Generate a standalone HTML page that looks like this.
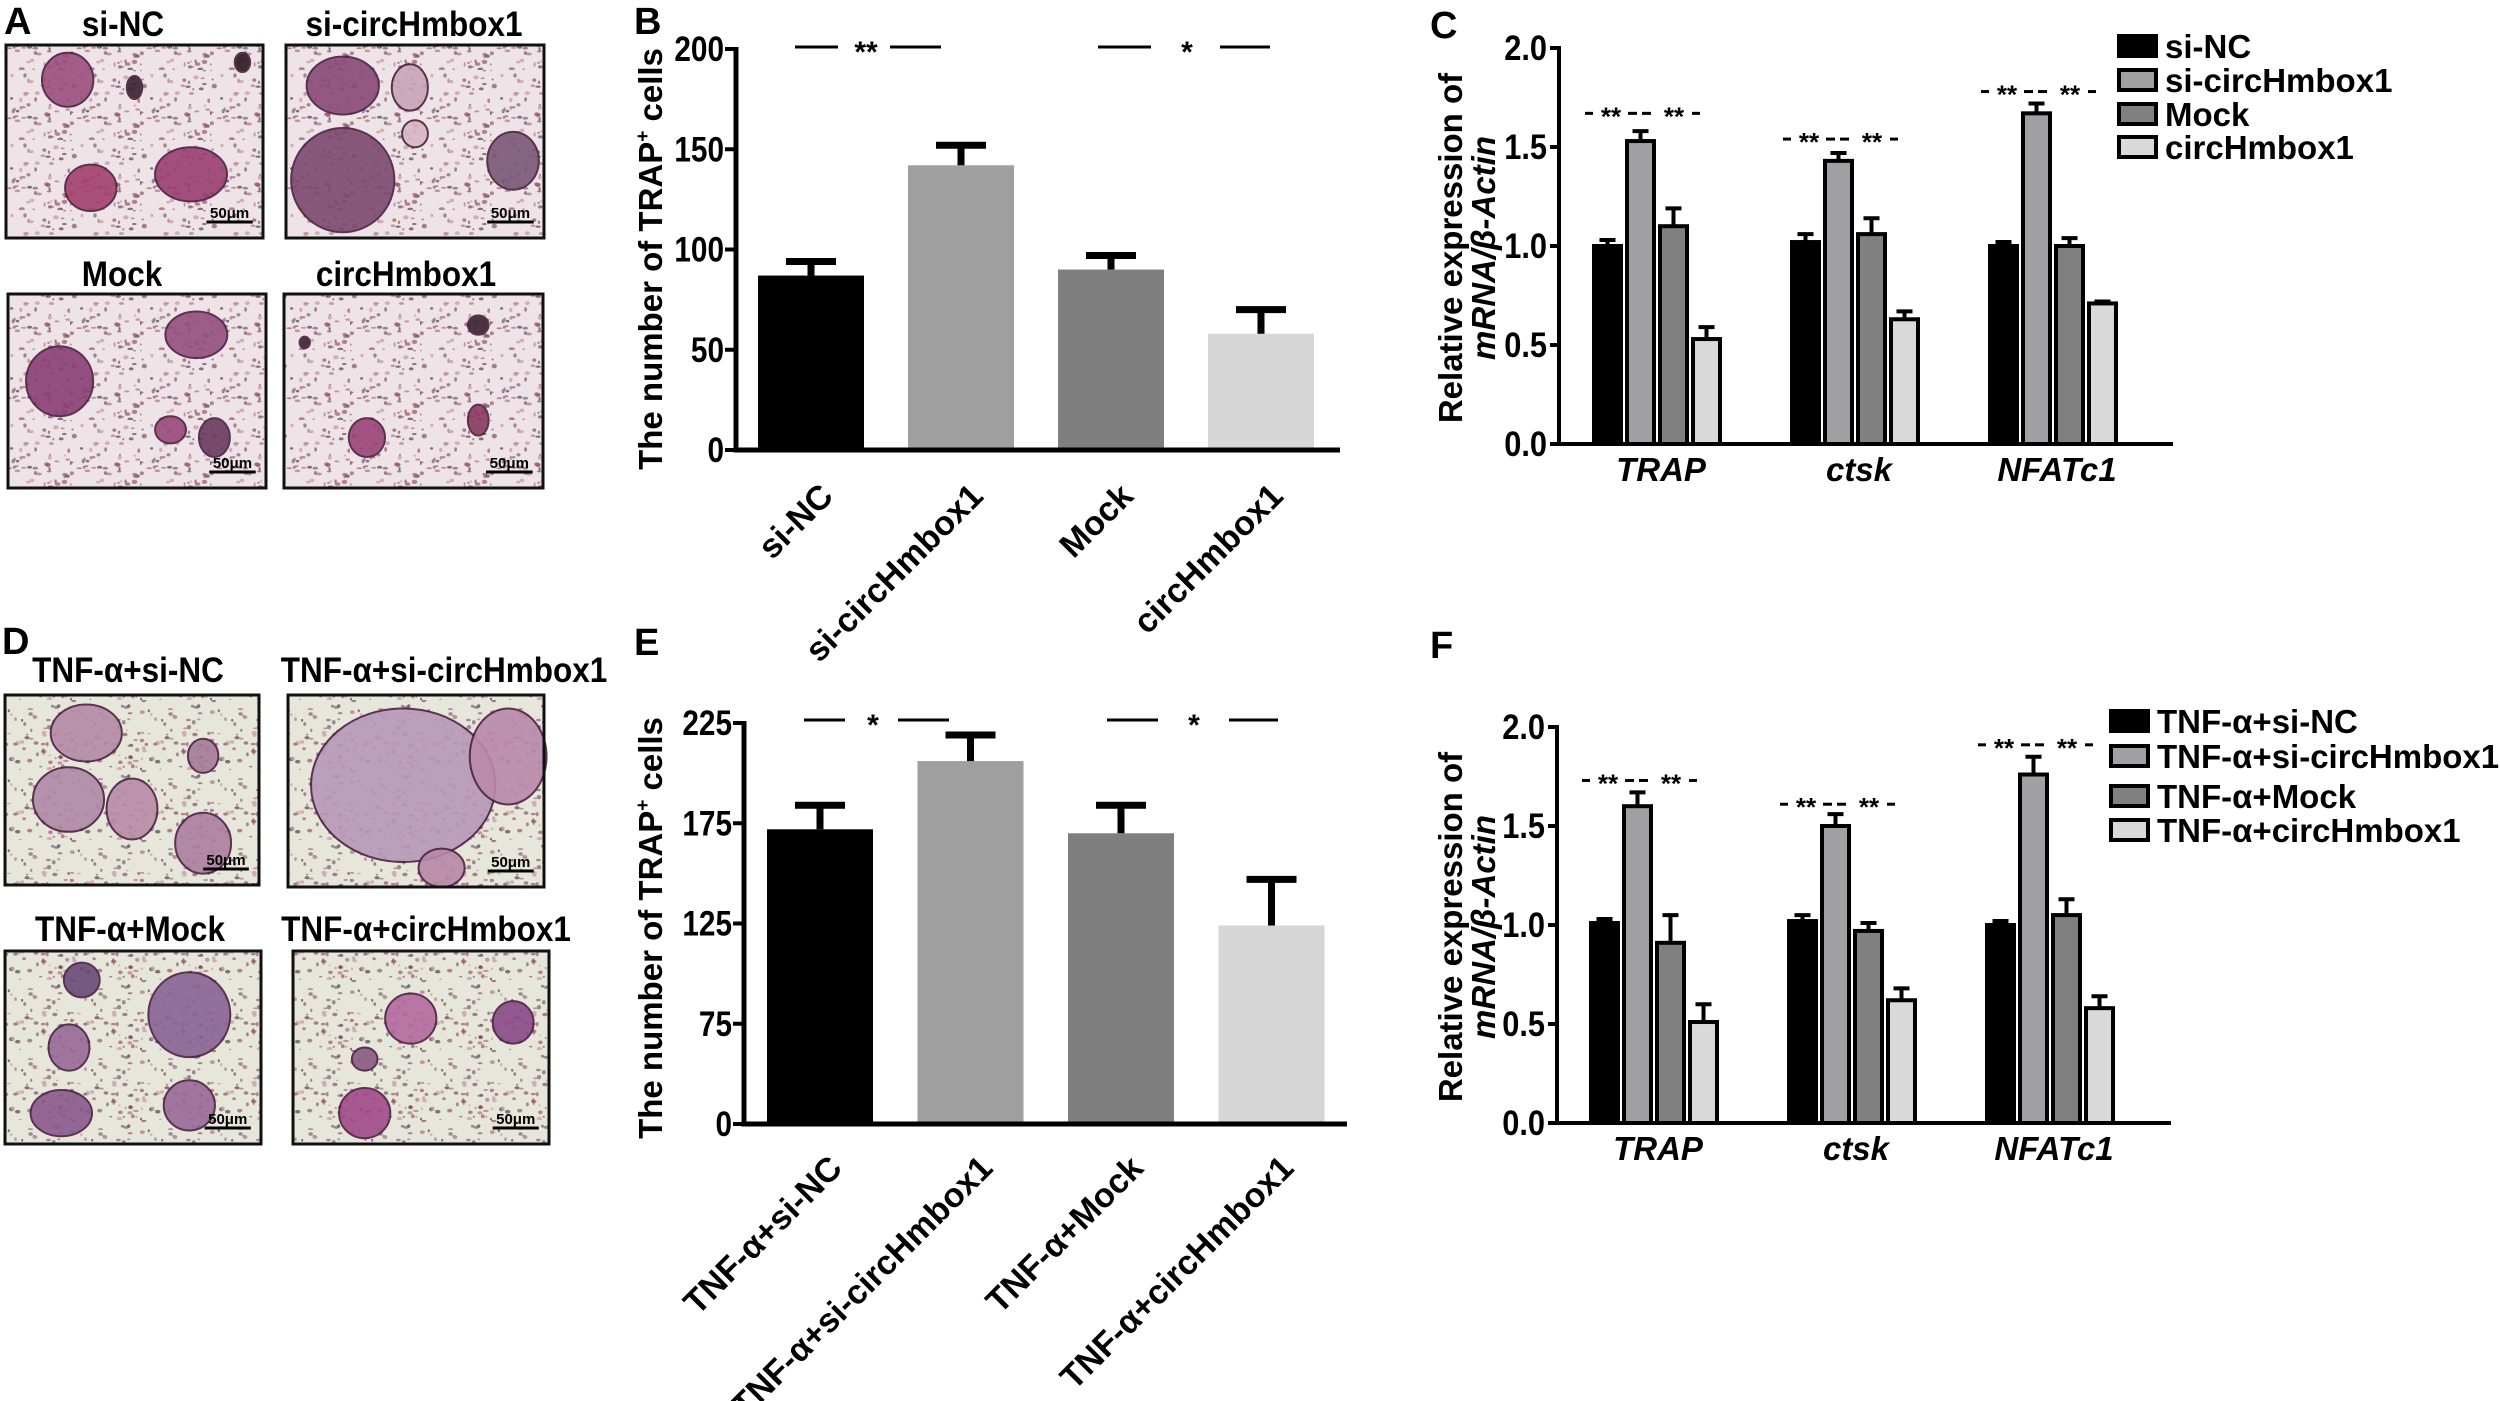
<!DOCTYPE html>
<html><head><meta charset="utf-8">
<style>
html,body{margin:0;padding:0;background:#fff;}
svg{display:block;}
text{font-family:"Liberation Sans",Arial,sans-serif;font-weight:bold;fill:#000;}
</style></head>
<body>
<svg id="fig" xmlns="http://www.w3.org/2000/svg" width="2500" height="1401" viewBox="0 0 2500 1401">
<defs>
<pattern id="speckA" width="70" height="70" patternUnits="userSpaceOnUse"><rect width="70" height="70" fill="#eee3e6"/><g id="dotsA"></g></pattern>
<pattern id="speckD" width="70" height="70" patternUnits="userSpaceOnUse"><rect width="70" height="70" fill="#e6e6da"/><g id="dotsD"></g></pattern>
</defs>
<g id="layer"></g>
</svg>
<script>
// ---------- Panel B data ----------
const bCategories = ["si-NC","si-circHmbox1","Mock","circHmbox1"];
const bValues = [87, 142, 90, 58];
const bErrors = [94, 152, 97, 70];
const bTicks = [0, 50, 100, 150, 200];
// ---------- Panel E data ----------
const eCategories = ["TNF-α+si-NC","TNF-α+si-circHmbox1","TNF-α+Mock","TNF-α+circHmbox1"];
const eValues = [172, 206, 170, 124];
const eErrors = [184, 219, 184, 147];
const eTicks = [25, 75, 125, 175, 225];
const eTickLabels = ["0","75","125","175","225"];
// ---------- Panel C data ----------
const cGenes = ["TRAP","ctsk","NFATc1"];
const cSeries = ["si-NC","si-circHmbox1","Mock","circHmbox1"];
const cSiNC = [1.00, 1.02, 1.00];
const cSiCirc = [1.53, 1.43, 1.67];
const cMock = [1.10, 1.06, 1.00];
const cCirc = [0.53, 0.63, 0.71];
const cSiNCErr = [0.03, 0.04, 0.02];
const cSiCircErr = [0.05, 0.04, 0.05];
const cMockErr = [0.09, 0.08, 0.04];
const cCircErr = [0.06, 0.04, 0.01];
const cSigLevel = [1.67, 1.54, 1.78];
// ---------- Panel F data ----------
const fSeries = ["TNF-α+si-NC","TNF-α+si-circHmbox1","TNF-α+Mock","TNF-α+circHmbox1"];
const fSiNC = [1.01, 1.02, 1.00];
const fSiCirc = [1.60, 1.50, 1.76];
const fMock = [0.91, 0.97, 1.05];
const fCirc = [0.51, 0.62, 0.58];
const fSiNCErr = [0.02, 0.03, 0.02];
const fSiCircErr = [0.07, 0.06, 0.09];
const fMockErr = [0.14, 0.04, 0.08];
const fCircErr = [0.09, 0.06, 0.06];
const fSigLevel = [1.73, 1.61, 1.91];
const relTicks = [0.0, 0.5, 1.0, 1.5, 2.0];

const NS = "http://www.w3.org/2000/svg";
const root = document.getElementById("layer");
function mk(tag, attrs, parent) {
  const el = document.createElementNS(NS, tag);
  for (const k in attrs) el.setAttribute(k, attrs[k]);
  (parent || root).appendChild(el);
  return el;
}
function txt(str, attrs, parent) { const t = mk("text", attrs, parent); t.textContent = str; return t; }

// ---------- speckle patterns (decorative texture) ----------
let seed = 7;
function rnd() { seed = (seed * 16807) % 2147483647; return seed / 2147483647; }
["dotsA","dotsD"].forEach(function(id){
  const g = document.getElementById(id);
  const cols = ["#8a5a6a","#b07a8a","#5a4a5a","#c89aa8","#7a6a80","#a06070"];
  for (let i = 0; i < 70; i++) {
    const d = document.createElementNS(NS, "ellipse");
    d.setAttribute("cx", (rnd()*70).toFixed(1));
    d.setAttribute("cy", (rnd()*70).toFixed(1));
    d.setAttribute("rx", (1 + rnd()*2).toFixed(1));
    d.setAttribute("ry", (0.8 + rnd()*1.5).toFixed(1));
    d.setAttribute("fill", cols[Math.floor(rnd()*cols.length)]);
    d.setAttribute("opacity", "0.75");
    g.appendChild(d);
  }
});

// ---------- micrograph panels ----------
function micro(x, y, w, h, title, tx, ty, pat, blobs, name) {
  const g = mk("g", {});
  
  
  const t = txt(title, {x: 0, y: 0, "text-anchor": "middle", "font-size": 35, transform: "translate(" + tx + "," + ty + ") scale(0.9,1)"}, g);
  
  
  mk("rect", {x: x, y: y, width: w, height: h, fill: "url(#" + pat + ")"}, g);
  blobs.forEach(function(b){
    mk("ellipse", {cx: x + b[0]*w, cy: y + b[1]*h, rx: b[2]*w, ry: b[3]*h, fill: b[4] || "#8e4f82", stroke: "#4a2040", "stroke-width": 2, opacity: 0.9}, g);
  });
  mk("rect", {x: x, y: y, width: w, height: h, fill: "none", stroke: "#111", "stroke-width": 3}, g);
  mk("line", {x1: x + w*0.78, y1: y + h - 16, x2: x + w*0.96, y2: y + h - 16, stroke: "#000", "stroke-width": 3}, g);
  txt("50μm", {x: x + w*0.87, y: y + h - 20, "text-anchor": "middle", "font-size": 15, "font-weight": "normal"}, g);
  return g;
}
txt("A", {x: 4, y: 34, "font-size": 38});
txt("D", {x: 2, y: 654, "font-size": 38});
micro(6, 45, 257, 193, "si-NC", 123, 36, "speckA",
  [[0.24,0.18,0.1,0.14,"#9a4f7e"],[0.33,0.74,0.1,0.12,"#a2406e"],[0.72,0.67,0.14,0.14,"#9a3f72"],[0.5,0.22,0.03,0.06,"#3a2030"],[0.92,0.09,0.03,0.05,"#2a1a20"]], "micrograph-si-nc");
micro(286, 45, 258, 193, "si-circHmbox1", 414, 36, "speckA",
  [[0.22,0.21,0.14,0.15,"#8a4a78"],[0.48,0.22,0.07,0.12,"#c9a6b8"],[0.5,0.46,0.05,0.07,"#d7b8c6"],[0.22,0.7,0.2,0.27,"#7c4a70"],[0.88,0.6,0.1,0.15,"#7a5878"]], "micrograph-si-circhmbox1");
micro(8, 294, 258, 194, "Mock", 122, 286, "speckA",
  [[0.2,0.45,0.13,0.18,"#8a3f74"],[0.73,0.21,0.12,0.12,"#94507e"],[0.63,0.7,0.06,0.07,"#9a4a7a"],[0.8,0.74,0.06,0.1,"#6a3a60"]], "micrograph-mock");
micro(284, 294, 259, 194, "circHmbox1", 406, 286, "speckA",
  [[0.75,0.16,0.04,0.05,"#3a2030"],[0.32,0.74,0.07,0.1,"#9a4478"],[0.75,0.65,0.04,0.08,"#8a3a60"],[0.08,0.25,0.02,0.03,"#3a2030"]], "micrograph-circhmbox1");
micro(5, 695, 254, 190, "TNF-α+si-NC", 128, 682, "speckD",
  [[0.32,0.2,0.14,0.15,"#b58aa8"],[0.25,0.55,0.14,0.17,"#b08aa6"],[0.5,0.6,0.1,0.16,"#b88ca6"],[0.78,0.78,0.11,0.16,"#ad7fa0"],[0.78,0.32,0.06,0.09,"#a57a98"]], "micrograph-tnf-si-nc");
micro(288, 695, 256, 192, "TNF-α+si-circHmbox1", 444, 682, "speckD",
  [[0.45,0.47,0.36,0.4,"#b898b8"],[0.86,0.32,0.15,0.25,"#b88aaa"],[0.6,0.9,0.09,0.1,"#b888a8"]], "micrograph-tnf-si-circhmbox1");
micro(5, 951, 256, 193, "TNF-α+Mock", 130, 941, "speckD",
  [[0.3,0.15,0.07,0.09,"#6a4a78"],[0.25,0.5,0.08,0.12,"#9a6a98"],[0.22,0.84,0.12,0.12,"#8a5a8c"],[0.72,0.33,0.16,0.22,"#8a6496"],[0.72,0.8,0.1,0.13,"#9a6a98"]], "micrograph-tnf-mock");
micro(293, 951, 256, 193, "TNF-α+circHmbox1", 426, 941, "speckD",
  [[0.46,0.35,0.1,0.13,"#b46aa0"],[0.86,0.37,0.08,0.11,"#8a4a88"],[0.28,0.56,0.05,0.06,"#8a5a80"],[0.28,0.84,0.1,0.13,"#a24a8a"]], "micrograph-tnf-circhmbox1");

// ---------- single bar charts (B, E) ----------
function barChart(opt) {
  const g = mk("g", {});
  
  
  const y = function(v){ return opt.y0 - (v - opt.dmin) / (opt.dmax - opt.dmin) * (opt.y0 - opt.y1); };
  const xc = function(i){ return opt.firstBar + opt.bw/2 + i * opt.step; };
  const cols = ["#000000","#9f9f9f","#7f7f7f","#d6d6d6"];
  opt.values.forEach(function(v, i){
    const r = mk("rect", {x: xc(i) - opt.bw/2, y: y(v), width: opt.bw, height: opt.y0 - y(v), fill: cols[i]}, g);
    
    
    const e = mk("path", {d: "M" + xc(i) + " " + y(v) + "V" + y(opt.errs[i]) + "M" + (xc(i)-25) + " " + y(opt.errs[i]) + "H" + (xc(i)+25), stroke: "#000", "stroke-width": 7, fill: "none"}, g);
    
    
    const lb = txt(opt.cats[i], {x: 0, y: 0, "text-anchor": "end", "font-size": 34, transform: "translate(" + (xc(i) + opt.lblDx) + "," + opt.lblY + ") rotate(-45)"}, g);
    
    
  });
  const ax = mk("path", {d: "M" + opt.ax + " " + (opt.y1 - 2) + "V" + opt.y0 + "H" + opt.axEnd, stroke: "#000", "stroke-width": 5, fill: "none"}, g);
  
  
  opt.ticks.forEach(function(t, i){
    mk("line", {x1: opt.ax - 11, x2: opt.ax, y1: y(t), y2: y(t), stroke: "#000", "stroke-width": 4}, g);
    const tl = txt(opt.tickLabels[i], {x: 0, y: 0, "text-anchor": "end", "font-size": 35, transform: "translate(" + (opt.ax - 12) + "," + (y(t) + 12) + ") scale(0.85,1)"}, g);
    
    
  });
  const yt = txt("The number of TRAP", {x: 0, y: 0, "text-anchor": "middle", "font-size": 33, transform: "translate(" + opt.titleX + "," + opt.titleY + ") rotate(-90)"}, g);
  const sup = document.createElementNS(NS, "tspan");
  sup.setAttribute("font-size", 19); sup.setAttribute("dy", -13); sup.textContent = "+";
  yt.appendChild(sup);
  const rest = document.createElementNS(NS, "tspan");
  rest.setAttribute("dy", 13); rest.textContent = " cells";
  yt.appendChild(rest);
  
  
  opt.sig.forEach(function(s){
    mk("line", {x1: s[0], x2: s[1], y1: opt.sigY, y2: opt.sigY, stroke: "#000", "stroke-width": 3}, g);
    mk("line", {x1: s[2], x2: s[3], y1: opt.sigY, y2: opt.sigY, stroke: "#000", "stroke-width": 3}, g);
    const st = txt(s[5], {x: s[4], y: opt.sigY + 15, "text-anchor": "middle", "font-size": 30}, g);
    
    
  });
  txt(opt.letter, {x: 634, y: opt.letterY, "font-size": 38}, g);
}
barChart({name: "panel-b-chart", letter: "B", letterY: 34, cats: bCategories, values: bValues, errs: bErrors,
  ticks: bTicks, tickLabels: bTicks.map(String), dmin: 0, dmax: 200, y0: 450, y1: 49, ax: 736, axEnd: 1340,
  firstBar: 758, bw: 106, step: 150, lblDx: 24, lblY: 498, titleX: 662, titleY: 259, sigY: 47,
  sig: [[795,838,890,941,866,"**"],[1098,1151,1220,1270,1187,"*"]]});
barChart({name: "panel-e-chart", letter: "E", letterY: 655, cats: eCategories, values: eValues, errs: eErrors,
  ticks: eTicks, tickLabels: eTickLabels, dmin: 25, dmax: 225, y0: 1124, y1: 723, ax: 744, axEnd: 1347,
  firstBar: 767, bw: 106, step: 150.5, lblDx: 24, lblY: 1170, titleX: 662, titleY: 928, sigY: 720,
  sig: [[804,845,898,949,873,"*"],[1107,1158,1229,1278,1194,"*"]]});

// ---------- grouped charts (C, F) ----------
function groupChart(opt) {
  const g = mk("g", {});
  
  
  const y = function(v){ return opt.y0 - v / 2.0 * (opt.y0 - opt.y1); };
  const cols = ["#000000","#a0a0a4","#808080","#d9d9d9"];
  const groupStep = 198, barStep = 33, bw = 27;
  opt.series.forEach(function(vals, si){
    vals.forEach(function(v, gi){
      const x = opt.g0 + gi * groupStep + si * barStep;
      const cx = x + bw/2;
      const e = mk("path", {d: "M" + cx + " " + y(v) + "V" + y(v + opt.errs[si][gi]) + "M" + (cx-8) + " " + y(v + opt.errs[si][gi]) + "H" + (cx+8), stroke: "#000", "stroke-width": 4, fill: "none"}, g);
      
      
      const r = mk("rect", {x: x, y: y(v), width: bw, height: opt.y0 - y(v), fill: cols[si], stroke: "#000", "stroke-width": 4}, g);
      
      
    });
  });
  opt.genes.forEach(function(gn, gi){
    const gx = opt.g0 + gi * groupStep;
    const cl = txt(gn, {x: gx + 67, y: opt.y0 + 37, "text-anchor": "middle", "font-size": 33, "font-style": "italic"}, g);
    
    
    const sy = y(opt.sig[gi]);
    [[-9,-1],[34,43],[48,57],[98,106]].forEach(function(d){
      mk("line", {x1: gx + d[0], x2: gx + d[1], y1: sy, y2: sy, stroke: "#000", "stroke-width": 3}, g);
    });
    const s1 = txt("**", {x: gx + 17, y: sy + 12, "text-anchor": "middle", "font-size": 26}, g);
    
    
    const s2 = txt("**", {x: gx + 80, y: sy + 12, "text-anchor": "middle", "font-size": 26}, g);
    
    
  });
  const ax = mk("path", {d: "M" + opt.ax + " " + (opt.y1 - 2) + "V" + opt.y0 + "H" + opt.axEnd, stroke: "#000", "stroke-width": 4, fill: "none"}, g);
  
  
  relTicks.forEach(function(t){
    mk("line", {x1: opt.ax - 9, x2: opt.ax, y1: y(t), y2: y(t), stroke: "#000", "stroke-width": 4}, g);
    const tl = txt(t.toFixed(1), {x: 0, y: 0, "text-anchor": "end", "font-size": 35, transform: "translate(" + (opt.ax - 12) + "," + (y(t) + 12) + ") scale(0.88,1)"}, g);
    
    
  });
  const t1 = txt("Relative expression of", {x: 0, y: 0, "text-anchor": "middle", "font-size": 33, transform: "translate(1462," + opt.titleY + ") rotate(-90)"}, g);
  
  
  const t2 = txt("mRNA/β-Actin", {x: 0, y: 0, "text-anchor": "middle", "font-size": 33, "font-style": "italic", transform: "translate(1495," + opt.titleY + ") rotate(-90)"}, g);
  
  
  opt.legendNames.forEach(function(n, i){
    const ly = opt.legY[i];
    const sw = mk("rect", {x: opt.legX, y: ly - 10, width: 37, height: 20, fill: cols[i], stroke: "#000", "stroke-width": 4}, g);
    
    
    const lt = txt(n, {x: opt.legX + 46, y: ly + 12, "font-size": 33}, g);
    
    
  });
  txt(opt.letter, {x: 1430, y: opt.letterY, "font-size": 38}, g);
}
groupChart({name: "panel-c-chart", letter: "C", letterY: 38, genes: cGenes,
  series: [cSiNC, cSiCirc, cMock, cCirc], errs: [cSiNCErr, cSiCircErr, cMockErr, cCircErr], sig: cSigLevel,
  y0: 444, y1: 48, ax: 1559, axEnd: 2173, g0: 1594, titleY: 248,
  legendNames: cSeries, legX: 2119, legY: [46, 80, 114, 147]});
groupChart({name: "panel-f-chart", letter: "F", letterY: 658, genes: cGenes,
  series: [fSiNC, fSiCirc, fMock, fCirc], errs: [fSiNCErr, fSiCircErr, fMockErr, fCircErr], sig: fSigLevel,
  y0: 1123, y1: 727, ax: 1557, axEnd: 2171, g0: 1591, titleY: 927,
  legendNames: fSeries, legX: 2111, legY: [721, 756, 796, 830]});
</script>
</body></html>
